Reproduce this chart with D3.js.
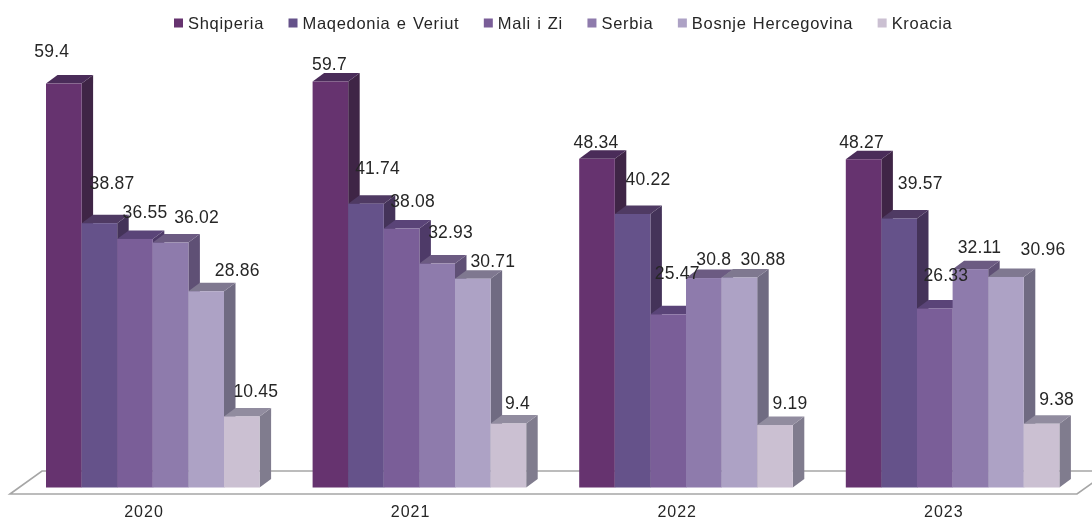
<!DOCTYPE html>
<html><head><meta charset="utf-8">
<script src="https://cdn.jsdelivr.net/npm/d3@7"></script>
<style>
html,body{margin:0;padding:0;background:#fff;overflow:hidden}
svg{display:block;filter:blur(0.7px)}
text{font-family:"Liberation Sans",Arial,sans-serif;fill:#262626}
</style></head><body><div id="c"></div>
<script>
const years=["2020","2021","2022","2023"];
const seriesNames=["Shqiperia","Maqedonia e Veriut","Mali i Zi","Serbia","Bosnje Hercegovina","Kroacia"];
const shqiperia=[59.4,59.7,48.34,48.27];
const maqedonia=[38.87,41.74,40.22,39.57];
const maliIZi=[36.55,38.08,25.47,26.33];
const serbia=[36.02,32.93,30.8,32.11];
const bosnje=[28.86,30.71,30.88,30.96];
const kroacia=[10.45,9.4,9.19,9.38];
const seriesValues=[shqiperia,maqedonia,maliIZi,serbia,bosnje,kroacia];
const frontColors=["#66336f","#65528a","#7a5e98","#8e7bac","#ada2c5","#cbc0d2"];
const topColors=["#4a2c59","#4f3a63","#5a4478","#6c5b82","#7f7890","#918c9f"];
const sideColors=["#3f2546","#443359","#4e3a68","#5f5075","#706b82","#807c8e"];
// label nudges (dx, dy from the bar's top-centre), by series then year
const labelDx=[[-12,-1,-1,-2],[12.6,11.6,15.4,21],[10,11,9,11],[26,13.4,10,9],[31,20,23.6,37],[14,9,15,15]];
const labelDy=[[-33,-17.5,-17,-17],[-40,-36,-35,-35],[-27,-27.5,-41,-33.5],[-25.6,-31.6,-19,-22],[-21,-18,-18.5,-28],[-25,-20.6,-22,-25]];

const W=1092,H=521;
const svg=d3.select("#c").append("svg").attr("width",W).attr("height",H);
const baseY=487.5, depthX=11.5, depthY=8.5;
const x0=d3.scaleBand().domain(years).range([46,46+266.6*4]);
const barW=35.6;
const x1=d3.scaleBand().domain(d3.range(6)).range([0,barW*6]);
const y=d3.scaleLinear().domain([0,59.4]).range([baseY,baseY-59.4*6.8]);

// floor
const floorY0=494,floorY1=471;
svg.append("path").attr("d",`M10,${floorY0}L42,${floorY1}L1109,${floorY1}L1077,${floorY0}Z`)
  .attr("fill","#fff").attr("stroke","#a6a6a6").attr("stroke-width",1.6);

// bars
const rows=[];
years.forEach((yr,i)=>seriesValues.forEach((vals,s)=>rows.push({yr,i,s,v:vals[i]})));
const bars=svg.append("g").selectAll("g").data(rows).join("g");
bars.append("path").attr("fill",d=>sideColors[d.s]).attr("d",d=>{
  const r=x0(d.yr)+x1(d.s)+barW,t=y(d.v);
  return `M${r},${t}L${r+depthX},${t-depthY}L${r+depthX},${baseY-depthY}L${r},${baseY}Z`;});
bars.append("path").attr("fill",d=>topColors[d.s]).attr("d",d=>{
  const l=x0(d.yr)+x1(d.s),t=y(d.v);
  return `M${l},${t}L${l+depthX},${t-depthY}L${l+barW+depthX},${t-depthY}L${l+barW},${t}Z`;});
bars.append("rect").attr("fill",d=>frontColors[d.s])
  .attr("x",d=>x0(d.yr)+x1(d.s)).attr("y",d=>y(d.v))
  .attr("width",barW).attr("height",d=>baseY-y(d.v));

// value labels
svg.append("g").selectAll("text").data(rows).join("text")
  .attr("text-anchor","middle").attr("dominant-baseline","central")
  .attr("font-size",17.5).attr("letter-spacing",0.2)
  .attr("x",d=>x0(d.yr)+x1(d.s)+barW/2+labelDx[d.s][d.i])
  .attr("y",d=>y(d.v)+labelDy[d.s][d.i])
  .text(d=>d.v);

// x axis
const axis=d3.axisBottom(d3.scaleBand().domain(years).range([10.7,10.7+266.6*4])).tickSize(0);
const ax=svg.append("g").attr("transform","translate(0,517)").call(axis);
ax.select(".domain").remove();
ax.selectAll("text").attr("font-size",16).attr("letter-spacing",1).attr("font-family",null).attr("y",0).attr("dy",0);

// legend, flowed left to right
let lx=174;
const leg=svg.append("g");
seriesNames.forEach((n,i)=>{
  leg.append("rect").attr("x",lx).attr("y",18.5).attr("width",9).attr("height",9).attr("fill",frontColors[i]);
  const t=leg.append("text").attr("x",lx+14).attr("y",29).attr("font-size",16.5)
    .attr("letter-spacing",0.7).attr("word-spacing",1).text(n);
  lx+=14+t.node().getComputedTextLength()+24.5;
});
</script></body></html>
